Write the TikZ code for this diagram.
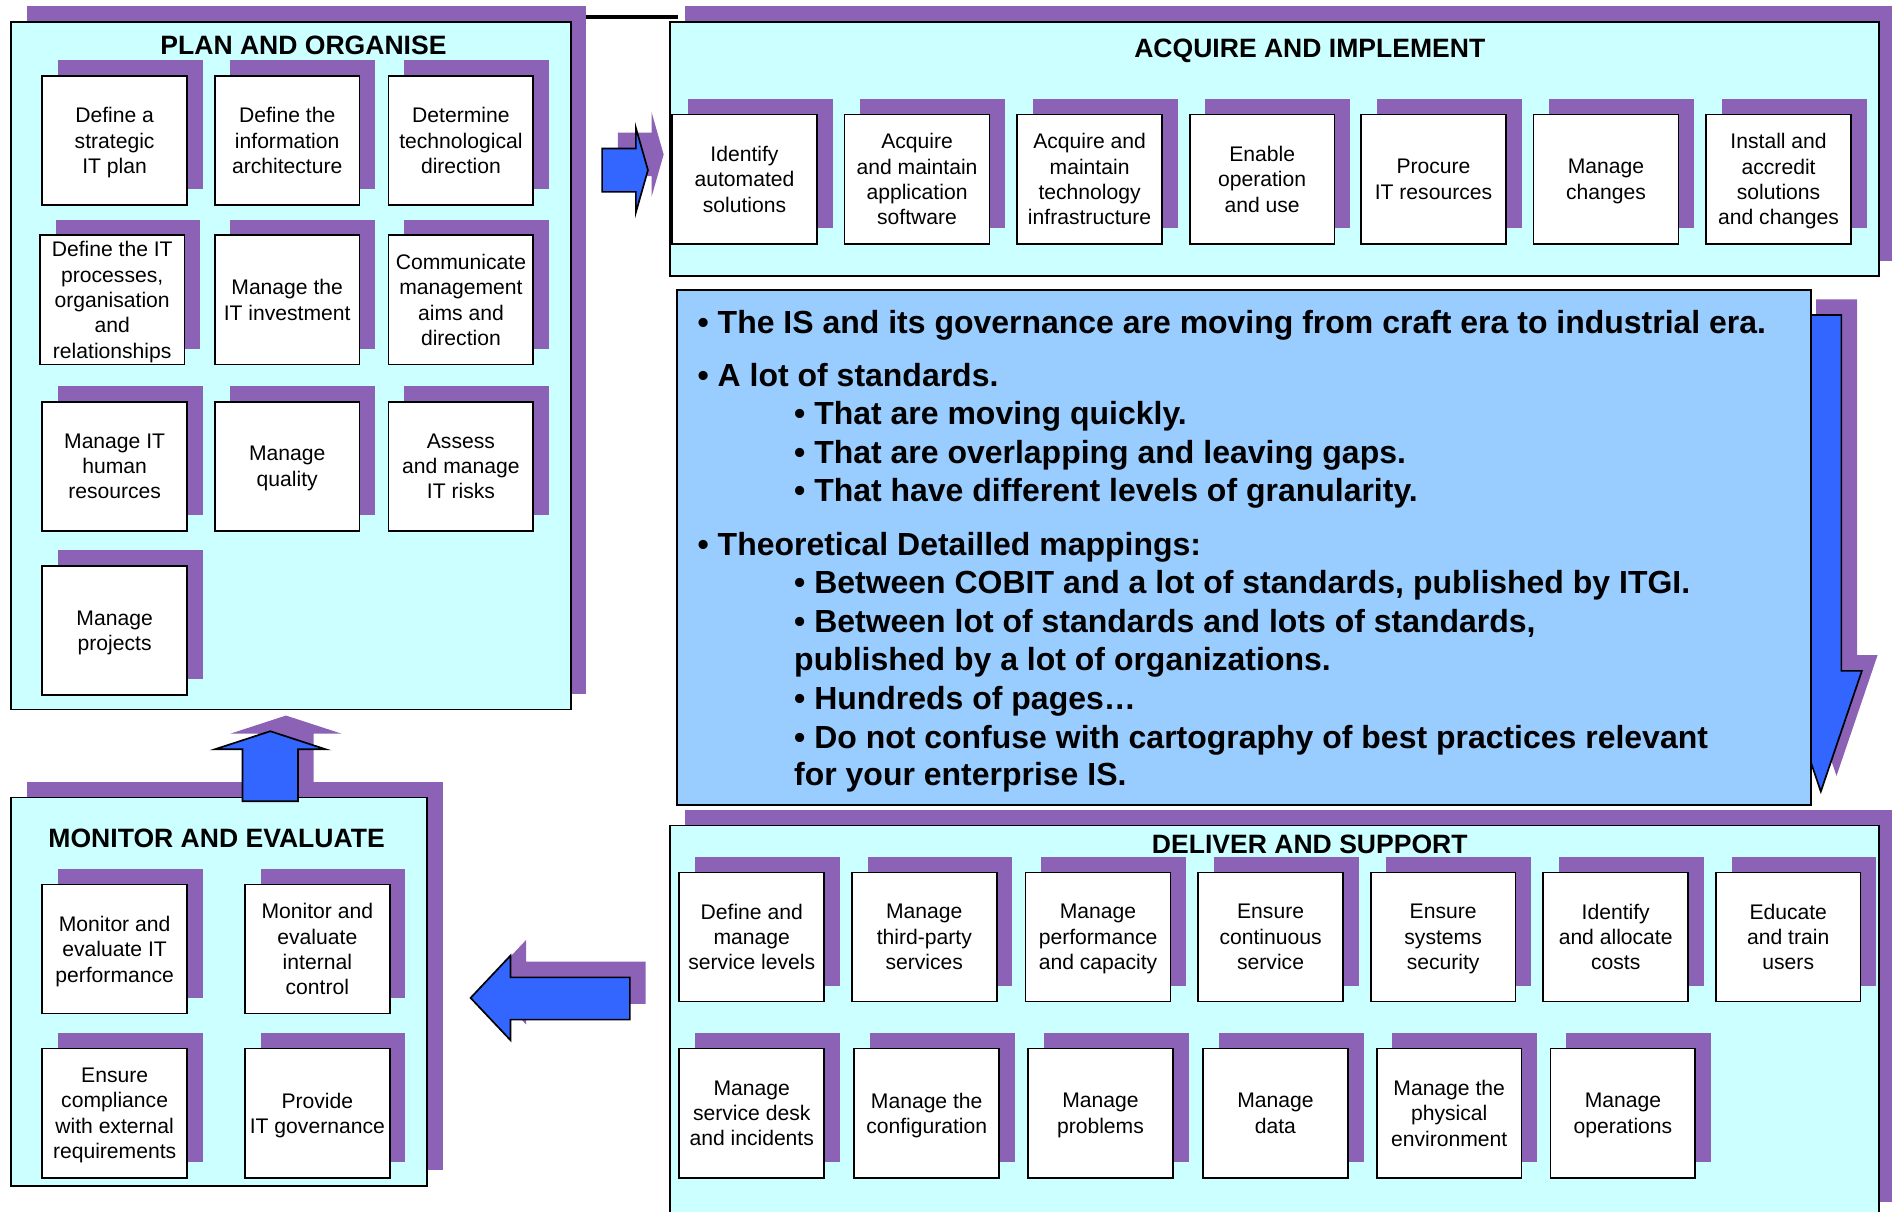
\documentclass[tikz,border=0pt]{standalone}
\usepackage{fontspec}
\setmainfont{Liberation Sans}
\usetikzlibrary{shadows}

\definecolor{shadowviolet}{RGB}{139,98,181}
\definecolor{domaincyan}{RGB}{204,255,255}
\definecolor{notesblue}{RGB}{153,204,255}
\definecolor{arrowblue}{RGB}{51,102,255}

\tikzset{
  violetshadow/.style={general shadow={fill=shadowviolet, shadow xshift=13pt, shadow yshift=13pt}},
  domainbox/.style={draw, line width=1.4pt, fill=domaincyan, violetshadow,
    anchor=north west, inner sep=0pt, outer sep=0pt},
  proc/.style={draw, line width=1.4pt, fill=white, violetshadow,
    anchor=north west, minimum width=120pt, minimum height=107pt,
    inner sep=0pt, outer sep=0pt, align=center, text depth=0pt,
    font=\fontsize{17.5}{21}\selectfont},
  domtitle/.style={anchor=base, inner sep=0pt, font=\fontsize{22}{26}\selectfont\bfseries},
  blockarrow/.style={draw, line width=1.4pt, fill=arrowblue, line join=miter, violetshadow},
  noteline/.style={anchor=base west, inner sep=0pt, font=\fontsize{26.5}{32}\selectfont\bfseries},
}

\begin{document}
\begin{tikzpicture}[x=1pt, y=-1pt]
\useasboundingbox (0,0) rectangle (1568,1004);
\clip (0,0) rectangle (1568,1004);

% link along the top between the first two domains
\coordinate (linkA) at (480,14);
\coordinate (linkB) at (562,14);
\draw[line width=2.7pt] (linkA) -- (linkB);

% ---------------- Plan and Organise ----------------
\node[domainbox, minimum width=464pt, minimum height=570pt] (po) at (9,18) {};
\node[domtitle] (potitle) at (251.5,45) {PLAN AND ORGANISE};
\node[proc] (po1)  at (35,63)   {Define a\\strategic\\IT plan};
\node[proc] (po2)  at (178,63)  {Define the\\information\\architecture};
\node[proc] (po3)  at (322,63)  {Determine\\technological\\direction};
\node[proc] (po4)  at (33,195)  {Define the IT\\processes,\\organisation\\and\\relationships};
\node[proc] (po5)  at (178,195) {Manage the\\IT investment};
\node[proc] (po6)  at (322,195) {Communicate\\management\\aims and\\direction};
\node[proc] (po7)  at (35,333)  {Manage IT\\human\\resources};
\node[proc] (po8)  at (178,333) {Manage\\quality};
\node[proc] (po9)  at (322,333) {Assess\\and manage\\IT risks};
\node[proc] (po10) at (35,469)  {Manage\\projects};

% ---------------- Acquire and Implement ----------------
\node[domainbox, minimum width=1002pt, minimum height=211pt] (ai) at (555,18) {};
\node[domtitle] (aititle) at (1085.5,48) {ACQUIRE AND IMPLEMENT};
\node[proc] (ai1) at (557,95)  {Identify\\automated\\solutions};
\node[proc] (ai2) at (700,95)  {Acquire\\and maintain\\application\\software};
\node[proc] (ai3) at (843,95)  {Acquire and\\maintain\\technology\\infrastructure};
\node[proc] (ai4) at (986,95)  {Enable\\operation\\and use};
\node[proc] (ai5) at (1128,95) {Procure\\IT resources};
\node[proc] (ai6) at (1271,95) {Manage\\changes};
\node[proc] (ai7) at (1414,95) {Install and\\accredit\\solutions\\and changes};

% arrow from PO into AI
\draw[blockarrow] (499,123) -- (527,123) -- (527,106) -- (537,141) -- (527,176)
  -- (527,159) -- (499,159) -- cycle;

% ---------------- notes panel with the down arrow behind it ----------------
\draw[blockarrow] (1492,261) -- (1526,261) -- (1526,556) -- (1543,556) -- (1509,656)
  -- (1475,556) -- (1492,556) -- cycle;
\node[draw, line width=1.6pt, fill=notesblue, anchor=north west, inner sep=0pt,
  outer sep=0pt, minimum width=940pt, minimum height=427pt] (notes) at (561,240) {};
\node[noteline] (n1)  at (578,276) {• The IS and its governance are moving from craft era to industrial era.};
\node[noteline] (n2)  at (578,320) {• A lot of standards.};
\node[noteline] (n3)  at (658,352) {• That are moving quickly.};
\node[noteline] (n4)  at (658,384) {• That are overlapping and leaving gaps.};
\node[noteline] (n5)  at (658,416) {• That have different levels of granularity.};
\node[noteline] (n6)  at (578,460) {• Theoretical Detailled mappings:};
\node[noteline] (n7)  at (658,492) {• Between COBIT and a lot of standards, published by ITGI.};
\node[noteline] (n8)  at (658,524) {• Between lot of standards and lots of standards,};
\node[noteline] (n9)  at (658,556) {published by a lot of organizations.};
\node[noteline] (n10) at (658,588) {• Hundreds of pages…};
\node[noteline] (n11) at (658,620) {• Do not confuse with cartography of best practices relevant};
\node[noteline] (n12) at (658,651) {for your enterprise IS.};

% ---------------- Deliver and Support ----------------
\node[domainbox, minimum width=1002pt, minimum height=325pt] (ds) at (555,684) {};
\node[domtitle] (dstitle) at (1085.5,707) {DELIVER AND SUPPORT};
\node[proc] (ds1)  at (563,723)  {Define and\\manage\\service levels};
\node[proc] (ds2)  at (706,723)  {Manage\\third-party\\services};
\node[proc] (ds3)  at (850,723)  {Manage\\performance\\and capacity};
\node[proc] (ds4)  at (993,723)  {Ensure\\continuous\\service};
\node[proc] (ds5)  at (1136,723) {Ensure\\systems\\security};
\node[proc] (ds6)  at (1279,723) {Identify\\and allocate\\costs};
\node[proc] (ds7)  at (1422,723) {Educate\\and train\\users};
\node[proc] (ds8)  at (563,869)  {Manage\\service desk\\and incidents};
\node[proc] (ds9)  at (708,869)  {Manage the\\configuration};
\node[proc] (ds10) at (852,869)  {Manage\\problems};
\node[proc] (ds11) at (997,869)  {Manage\\data};
\node[proc] (ds12) at (1141,869) {Manage the\\physical\\environment};
\node[proc] (ds13) at (1285,869) {Manage\\operations};

% arrow from DS back to ME
\draw[blockarrow] (522,810) -- (423,810) -- (423,792) -- (390,827) -- (423,862)
  -- (423,845) -- (522,845) -- cycle;

% ---------------- Monitor and Evaluate ----------------
\node[domainbox, minimum width=345pt, minimum height=322pt] (me) at (9,661) {};
\node[domtitle] (metitle) at (179.5,702) {MONITOR AND EVALUATE};
\node[proc] (me1) at (35,733)  {Monitor and\\evaluate IT\\performance};
\node[proc] (me2) at (203,733) {Monitor and\\evaluate\\internal\\control};
\node[proc] (me3) at (35,869)  {Ensure\\compliance\\with external\\requirements};
\node[proc] (me4) at (203,869) {Provide\\IT governance};

% arrow from ME up to PO
\draw[blockarrow] (201,664) -- (201,621) -- (178,621) -- (224,606) -- (270,621)
  -- (247,621) -- (247,664) -- cycle;

\end{tikzpicture}
\end{document}
